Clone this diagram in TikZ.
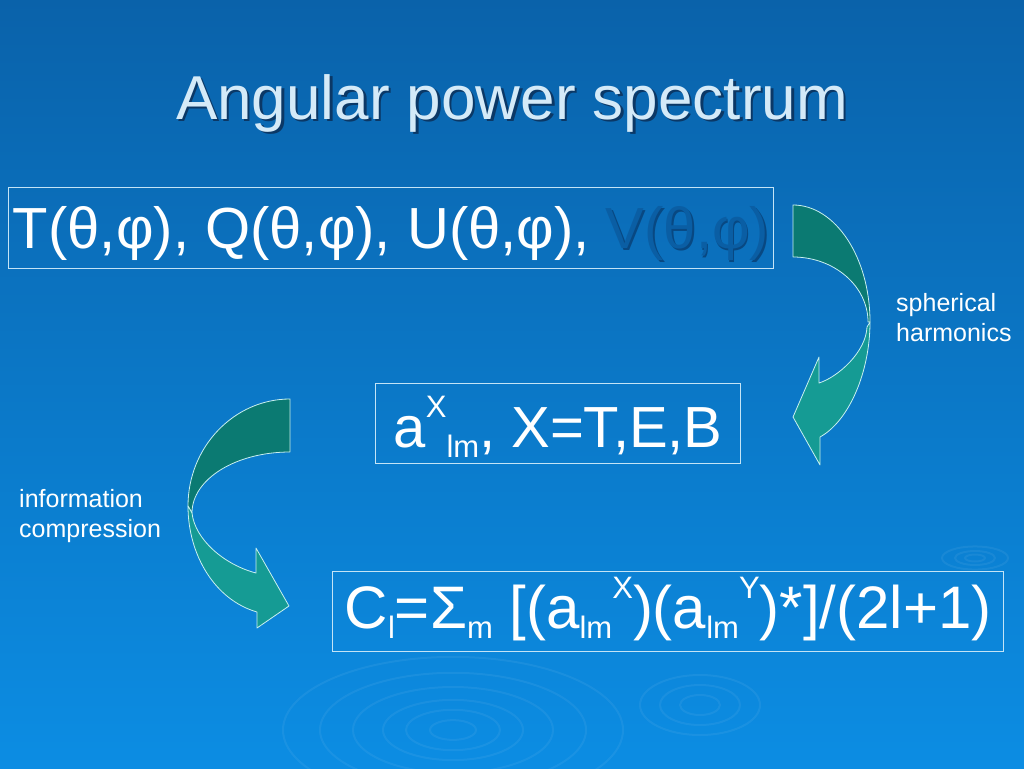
\documentclass[tikz,border=0pt]{standalone}
\usepackage{fontspec}
\setmainfont{Liberation Sans}
\definecolor{bgtop}{HTML}{0A62AA}
\definecolor{bgbot}{HTML}{0C8DE3}
\definecolor{titlecol}{HTML}{D4EAF8}
\definecolor{titleshade}{HTML}{0B3866}
\definecolor{boxline}{HTML}{C4E4F6}
\definecolor{arrowback}{HTML}{0B7A72}
\definecolor{arrowfront}{HTML}{159B94}
\definecolor{arrowline}{HTML}{C8F0F0}
\definecolor{vface}{HTML}{0A5EA4}
\definecolor{vshade}{HTML}{084882}

\newcommand{\up}[1]{\raisebox{30pt}{\fontsize{31}{31}\selectfont #1}}
\newcommand{\dn}[1]{\raisebox{-10pt}{\fontsize{31}{31}\selectfont #1}}
\newcommand{\faded}[1]{\makebox[0pt][l]{\hspace{1.5pt}\raisebox{-1.5pt}{\color{vshade}#1}}{\color{vface}#1}}
\newcommand{\withshade}[1]{\makebox[0pt][l]{\hspace{2.5pt}\raisebox{-2.5pt}{\color{titleshade}#1}}#1}

\tikzset{
  formula/.style={draw=boxline, line width=1.2pt, inner sep=0pt, text=white,
    anchor=north west, font=\fontsize{58}{60}\selectfont},
  side note/.style={text=white, inner sep=0pt, anchor=north west, align=left,
    font=\fontsize{25}{30}\selectfont},
  back part/.style={fill=arrowback, draw=arrowline, line width=0.8pt, line join=round},
  front part/.style={fill=arrowfront, draw=arrowline, line width=0.8pt, line join=round},
  ripple/.style={draw=white, opacity=0.06, line width=2pt}
}

\begin{document}
\begin{tikzpicture}[x=1pt,y=-1pt]
\useasboundingbox (0,0) rectangle (1024,768);
\shade[top color=bgtop, bottom color=bgbot] (0,0) rectangle (1024,768);

% ripples on the water
\begin{scope}
\clip (0,0) rectangle (1024,768);
\foreach \r in {10,20,33}{
    \draw[ripple] (975,558) ellipse [x radius=\r, y radius=\r*0.35];
}
\foreach \r in {23,47,70,100,133,170}{
    \draw[ripple] (453,730) ellipse [x radius=\r, y radius=\r*0.43];
}
\foreach \r in {20,40,60}{
    \draw[ripple] (700,705) ellipse [x radius=\r, y radius=\r*0.5];
}
\end{scope}

% title
\node[anchor=base, text=titlecol, font=\fontsize{62}{64}\selectfont] (title) at (512,119)
    {\withshade{Angular power spectrum}};

% the three boxes
\node[formula, minimum width=765pt, text height=61pt, text depth=20pt] (fields) at (8,187)
    {T(θ,φ), Q(θ,φ), U(θ,φ), \faded{V(θ,φ)}};
\node[formula, minimum width=365pt, text height=64pt, text depth=16pt] (alm) at (375,383)
    {a\up{X}\dn{lm}, X=T,E,B};
\node[formula, minimum width=671pt, text height=57pt, text depth=23pt,
    font=\fontsize{60}{62}\selectfont] (cl) at (332,571)
    {C\dn{l}=Σ\dn{m} [(a\dn{lm}\up{X})(a\dn{lm}\up{Y})*]/(2l+1)};

% curved arrow on the right
\filldraw[back part] (793,205) .. controls (835,205) and (870,257) .. (870,322)
    -- (868,322) .. controls (868,286) and (834,257) .. (793,257) -- cycle;
\filldraw[front part] (870,322) .. controls (870,372) and (849,421) .. (820,437)
    -- (820,465) -- (793,417) -- (819,357) -- (819,383)
    .. controls (838,377) and (866,352) .. (867,327) -- cycle;
\node[side note] (spherical) at (896,293) {spherical\\harmonics};

% curved arrow on the left
\filldraw[back part] (290,399) .. controls (234,399) and (188,447) .. (188,506)
    -- (192,513) .. controls (192,479) and (236,452) .. (290,452) -- cycle;
\filldraw[front part] (188,506) .. controls (188,555) and (215,600) .. (257,612)
    -- (257,628) -- (289,606) -- (256,548) -- (256,573)
    .. controls (225,565) and (195,540) .. (192,513) -- cycle;
\node[side note] (compression) at (19,489) {information\\compression};
\end{tikzpicture}
\end{document}
